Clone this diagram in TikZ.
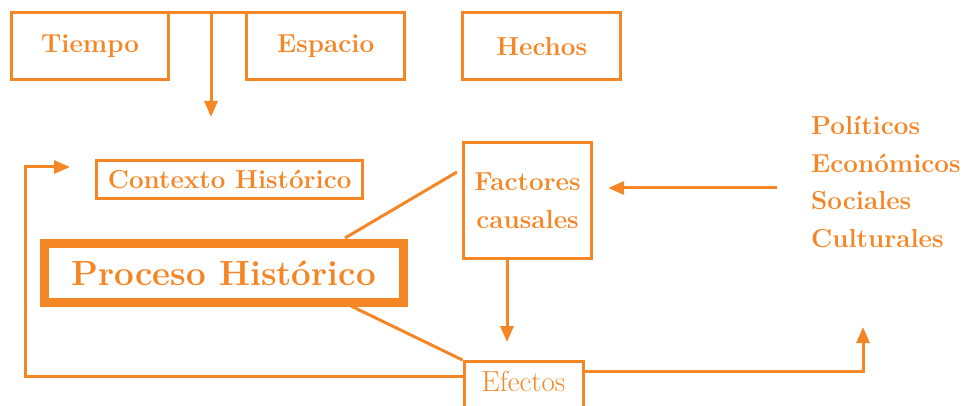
\documentclass[tikz,border=0pt]{standalone}
\usepackage{fontspec}
\usetikzlibrary{arrows.meta}
\definecolor{naranja}{RGB}{245,134,38}
\tikzset{
	caja/.style={draw=naranja, line width=3pt, text=naranja, inner sep=0pt,
		font=\fontsize{26}{38}\selectfont\bfseries},
	linea/.style={draw=naranja, line width=3pt},
	flecha/.style={linea, -{Triangle[length=16pt,width=13pt]}},
	etiqueta/.style={text=naranja, inner sep=0pt, anchor=base west,
		font=\fontsize{26}{30}\selectfont\bfseries}
}
\begin{document}
\begin{tikzpicture}[x=1pt,y=-1pt]
	\useasboundingbox (0,0) rectangle (966,406);
	\clip (0,0) rectangle (966,406);

	% cajas de arriba
	\node[caja, minimum width=156.6pt, minimum height=67pt] (tiempo) at (90,46.5) {Tiempo};
	\node[caja, minimum width=157.5pt, minimum height=67pt] (espacio) at (325.7,46.5) {Espacio};
	\node[caja, minimum width=158pt, minimum height=67pt] (hechos) at (541.7,46.5) {Hechos};

	\node[caja, minimum width=266pt, minimum height=38pt] (contexto) at (229.7,179.2) {Contexto Histórico};
	\node[caja, align=center, minimum width=128.4pt, minimum height=115.6pt] (factores) at (527.5,200.5) {Factores\\causales};
	\node[caja, line width=9pt, minimum width=358.5pt, minimum height=59pt,
		font=\fontsize{35}{40}\selectfont\bfseries] (proceso) at (223.75,273) {Proceso Histórico};
	\node[caja, anchor=north, minimum width=119pt, inner ysep=10pt, text depth=30pt,
		font=\fontsize{29}{34}\selectfont] (efectos) at (523.5,360) {Efectos};

	% lista de factores
	\node[etiqueta] (politicos) at (811,135) {Políticos};
	\node[etiqueta] (economicos) at (811,172.5) {Económicos};
	\node[etiqueta] (sociales) at (811,210) {Sociales};
	\node[etiqueta] (culturales) at (811,247.5) {Culturales};

	\coordinate (tizq) at (145,13);
	\coordinate (tder) at (285,13);
	\coordinate (tmed) at (211,13);
	\coordinate (tbaja) at (211,117);
	\coordinate (ctx) at (70,167);
	\coordinate (lista) at (777,188);
	\coordinate (pfac) at (457,172);
	\coordinate (pprocA) at (345,238);
	\coordinate (pprocB) at (351,306);
	\coordinate (arriba) at (863,327);

	% conectores
	\draw[linea] (tizq) -- (tder);
	\draw[flecha] (tmed) -- (tbaja);
	\draw[linea] (pprocA) -- (pfac);
	\draw[linea] (pprocB) -- (efectos.north west);
	\draw[flecha] (lista) -- ([xshift=15pt]factores.east |- lista);
	\draw[flecha] (507,0 |- factores.south) -- (507,342);
	\draw[flecha] (efectos.west |- 0,376) -| (25,167) -- (ctx);
	\draw[flecha] (efectos.east |- 0,371) -| (arriba);
\end{tikzpicture}
\end{document}
